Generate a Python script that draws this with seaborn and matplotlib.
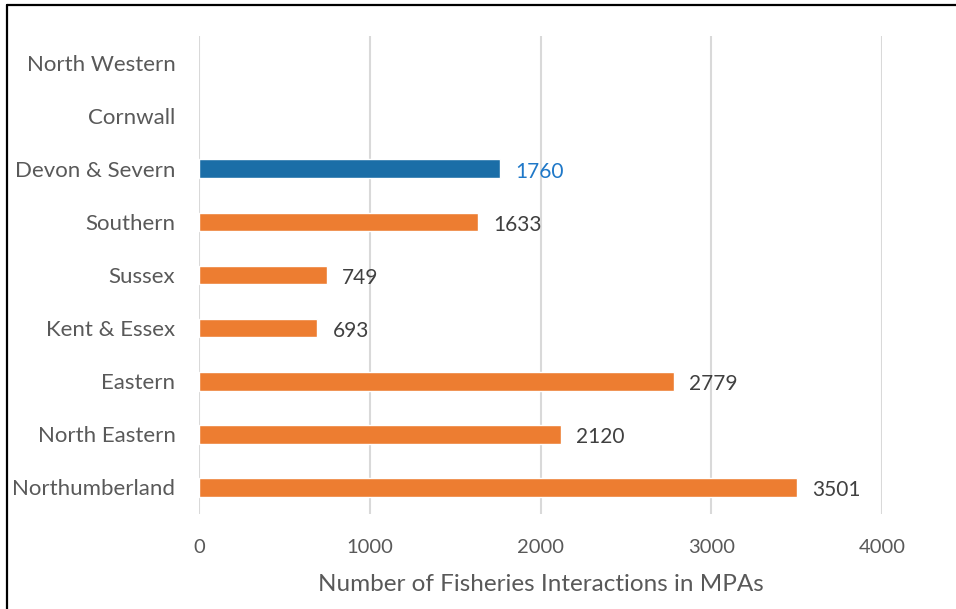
import numpy as np
import pandas as pd
import matplotlib
matplotlib.use("Agg")
import matplotlib.pyplot as plt
from matplotlib.lines import Line2D
import seaborn as sns

regions = ["North Western", "Cornwall", "Devon & Severn", "Southern", "Sussex",
           "Kent & Essex", "Eastern", "North Eastern", "Northumberland"]
interactions = [np.nan, np.nan, 1760, 1633, 749, 693, 2779, 2120, 3501]
bar_colors = ["#ED7D31", "#ED7D31", "#1B6EA7", "#ED7D31", "#ED7D31",
              "#ED7D31", "#ED7D31", "#ED7D31", "#ED7D31"]
label_colors = ["#404040", "#404040", "#1F78C8", "#404040", "#404040",
                "#404040", "#404040", "#404040", "#404040"]
x_ticks = [0, 1000, 2000, 3000, 4000]
x_label = "Number of Fisheries Interactions in MPAs"

sns.set_theme(style="white")
plt.rcParams['font.family'] = ['Lato', 'DejaVu Sans']

df = pd.DataFrame({"region": regions, "value": interactions})

fig = plt.figure(figsize=(9.56, 6.09), dpi=100)
ax = fig.add_axes([199/956, 1-514/609, (882-199)/956, (514-36)/609])

sns.barplot(data=df, y="region", x="value", hue="region", palette=bar_colors,
            order=regions, hue_order=regions, legend=False, width=0.35,
            orient="h", ax=ax, saturation=1)

ax.set_xlim(0, 4000)
ax.set_ylim(8.5, -0.5)
ax.set_xticks(x_ticks)
ax.set_xticklabels([str(t) for t in x_ticks], fontsize=14.5, color="#595959")
ax.tick_params(axis="x", length=0, pad=18)
ax.tick_params(axis="y", length=0, pad=17)
for lab in ax.get_yticklabels():
    lab.set_fontsize(16)
    lab.set_color("#595959")
ax.set_ylabel("")
ax.set_xlabel(x_label, fontsize=17.5, color="#595959", labelpad=13)
for s in ax.spines.values():
    s.set_visible(False)
ax.grid(axis="x", color="#D9D9D9", linewidth=1.5)
ax.set_axisbelow(True)

for i, (v, c) in enumerate(zip(interactions, label_colors)):
    if not np.isnan(v):
        ax.annotate(f"{int(v)}", xy=(v, i), xytext=(11, -2), textcoords="offset points",
                    va="center", ha="left", fontsize=15, color=c)

fig.add_artist(Line2D([7/956, 1.0], [1-5/609, 1-5/609], transform=fig.transFigure,
                      color="black", linewidth=1.6))
fig.add_artist(Line2D([7/956, 7/956], [0, 1-5/609], transform=fig.transFigure,
                      color="black", linewidth=1.6))

fig.savefig("out.png", dpi=100)
